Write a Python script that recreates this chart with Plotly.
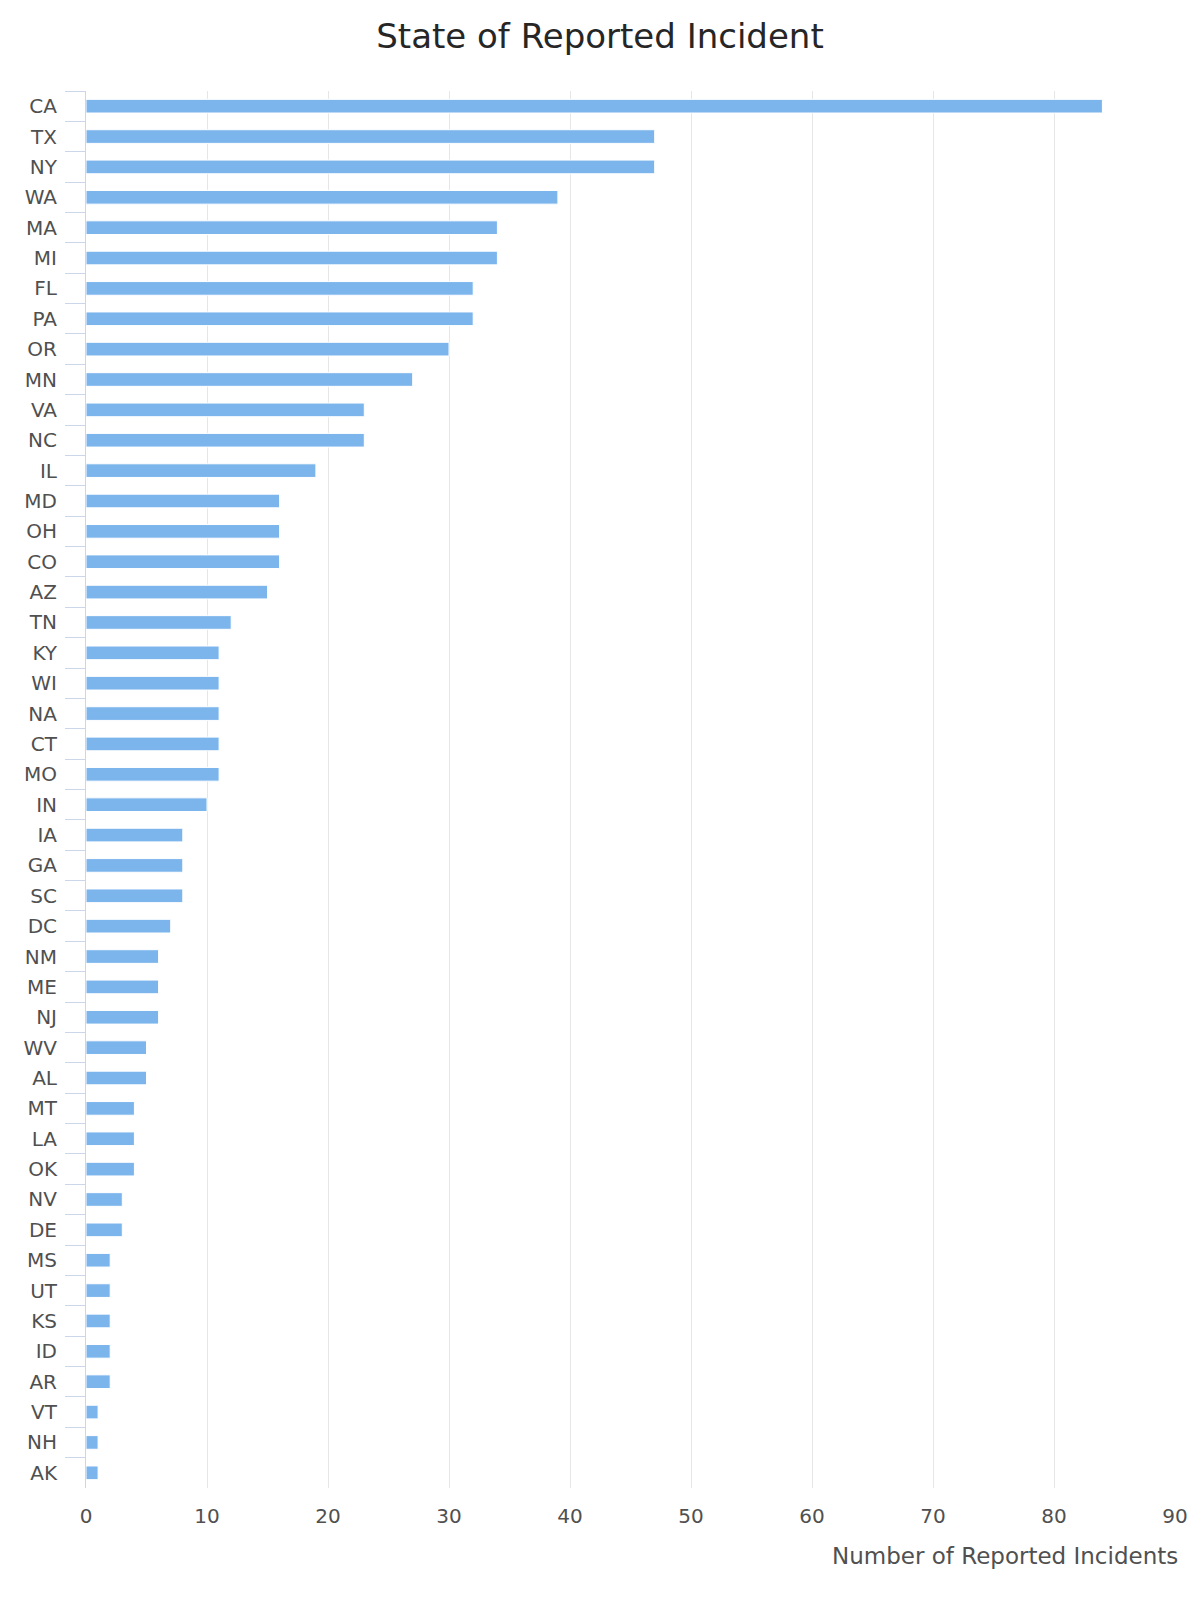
import plotly.graph_objects as go

states = ["CA", "TX", "NY", "WA", "MA", "MI", "FL", "PA", "OR", "MN", "VA", "NC", "IL",
          "MD", "OH", "CO", "AZ", "TN", "KY", "WI", "NA", "CT", "MO", "IN", "IA", "GA",
          "SC", "DC", "NM", "ME", "NJ", "WV", "AL", "MT", "LA", "OK", "NV", "DE", "MS",
          "UT", "KS", "ID", "AR", "VT", "NH", "AK"]
counts = [84, 47, 47, 39, 34, 34, 32, 32, 30, 27, 23, 23, 19,
          16, 16, 16, 15, 12, 11, 11, 11, 11, 11, 10, 8, 8,
          8, 7, 6, 6, 6, 5, 5, 4, 4, 4, 3, 3, 2,
          2, 2, 2, 2, 1, 1, 1]
x_ticks = [0, 10, 20, 30, 40, 50, 60, 70, 80, 90]

FONT = "DejaVu Sans"
TXT = "#505050"

fig = go.Figure(go.Bar(
    x=counts, y=states, orientation="h",
    marker=dict(color="#7cb5ec", line=dict(color="#ffffff", width=1)),
))

fig.update_layout(
    width=1200, height=1600,
    margin=dict(l=86, r=19, t=91, b=112),
    paper_bgcolor="white", plot_bgcolor="white",
    bargap=0.55,
    showlegend=False,
    font=dict(family=FONT, color=TXT, size=20),
    title=dict(text="State of Reported Incident", x=0.5, xanchor="center",
               y=1 - 36 / 1600, yanchor="middle", yref="container",
               font=dict(family=FONT, size=34, color="#262626")),
)

fig.update_xaxes(
    range=[0, 90], tickvals=x_ticks, ticktext=[str(v) for v in x_ticks],
    showgrid=True, gridcolor="#e6e6e6", gridwidth=1,
    zeroline=False, showline=False, ticks="",
    tickfont=dict(family=FONT, size=20, color=TXT),
    ticklabelstandoff=14,
)
fig.update_yaxes(
    categoryorder="array", categoryarray=states, autorange="reversed",
    showline=True, linecolor="#ccd6eb", linewidth=1,
    ticks="outside", tickson="boundaries", ticklen=20, tickcolor="#ccd6eb", tickwidth=1,
    showgrid=False, zeroline=False,
    tickfont=dict(family=FONT, size=20, color=TXT),
    ticklabelstandoff=24,
)

fig.add_annotation(
    text="Number of Reported Incidents", xref="paper", yref="paper",
    x=1, y=0, xanchor="right", yanchor="middle", yshift=-68, xshift=5, showarrow=False,
    font=dict(family=FONT, size=23, color=TXT),
)

fig.write_html("out.html")
